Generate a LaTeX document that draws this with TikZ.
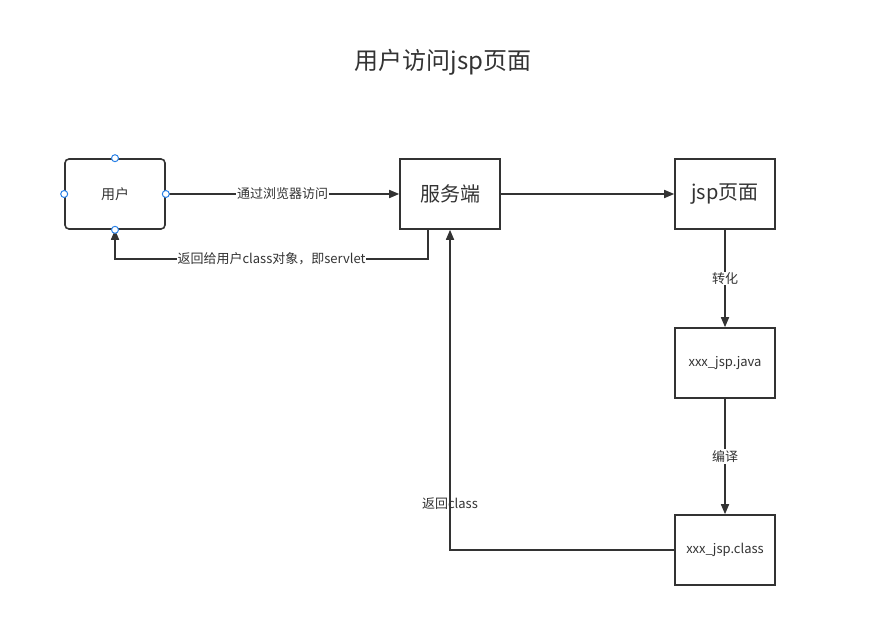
\documentclass[tikz,border=0pt]{standalone}
\usepackage{fontspec}
\setmainfont{Noto Sans CJK SC}
\usepackage{xcolor}
\usetikzlibrary{positioning, arrows.meta}

\definecolor{ink}{RGB}{51,51,51}
\definecolor{handle}{RGB}{41,128,230}

\begin{document}
\begin{tikzpicture}[x = 1pt, y = -1pt, line width = 1.6pt, draw = ink, text = ink,
		box/.style = {draw, line width = 1.6pt, minimum width = 100pt, minimum height = 70pt, inner sep = 0pt},
		lab/.style = {fill = white, font = \fontsize{13}{15}\selectfont, inner sep = 1pt},
		arr/.style = {-{Triangle[length = 10pt, width = 8pt]}}]
			\useasboundingbox (0,0) rectangle (893,636);

			\node (title) at (443,62) {\fontsize{24}{28}\selectfont 用户访问jsp页面};

			% boxes
			\node [box, rounded corners = 4pt, font = \fontsize{14}{16}\selectfont] (user) at (115,194) {用户};
			\node [box, font = \fontsize{20}{24}\selectfont] (server) at (450,194) {服务端};
			\node [box, font = \fontsize{20}{24}\selectfont] (jsp) at (725,194) {jsp页面};
			\node [box, font = \fontsize{13}{15}\selectfont] (java) at (725,363) {xxx\_jsp.java};
			\node [box, font = \fontsize{13}{15}\selectfont] (cls) at (725,550) {xxx\_jsp.class};

			% connectors
			\draw [arr] (user.east) -- (server.west) node [lab, midway] {通过浏览器访问};
			\draw [arr] ([xshift = -22pt]server.south) -- ++(0,29) -| (user.south) node [lab, pos = 0.25] {返回给用户class对象，即servlet};
			\draw [arr] (server.east) -- (jsp.west);
			\draw [arr] (jsp.south) -- (java.north) node [lab, pos = 0.5] {转化};
			\draw [arr] (java.south) -- (cls.north) node [lab, pos = 0.5] {编译};
			\draw [arr] (cls.west) -| (server.south) node [pos = 0.573, font = \fontsize{13}{15}\selectfont] {返回class};

			\foreach \a in {north, south, east, west}
			{
				\draw [handle, fill = white, line width = 1pt] (user.\a) circle (3.5pt);
			}
		\end{tikzpicture}
\end{document}
